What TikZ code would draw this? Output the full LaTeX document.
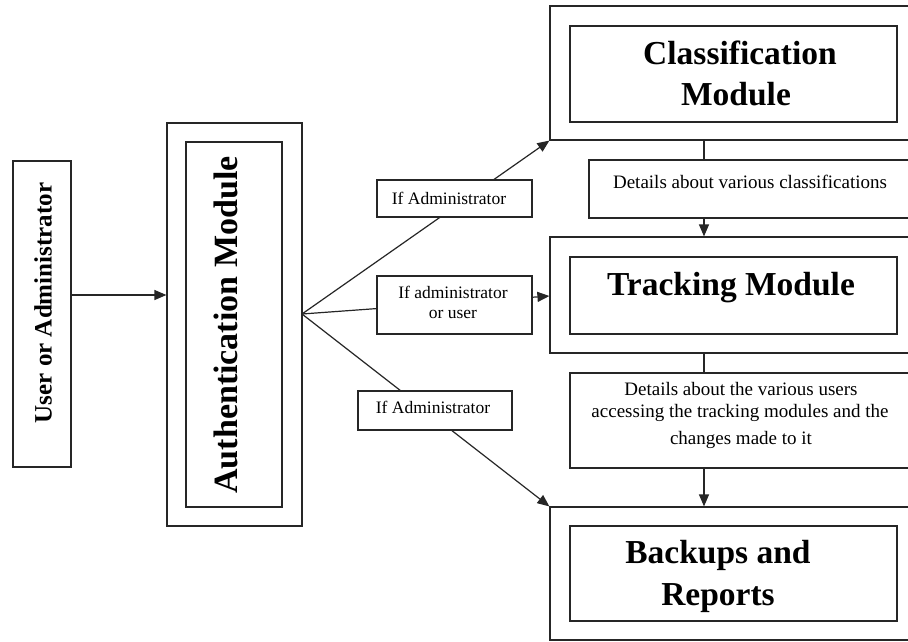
\documentclass[tikz,border=0pt]{standalone}
\usepackage{fontspec}
\setmainfont{Liberation Serif}
\usetikzlibrary{arrows.meta}
\begin{document}
\begin{tikzpicture}[x=1pt,y=-1pt,
  frame/.style={draw=black!85,line width=1.2pt,inner sep=0pt},
  bigtxt/.style={font=\fontsize{33.5}{40}\selectfont\bfseries,inner sep=0pt,anchor=base},
  smalltxt/.style={font=\fontsize{19}{22}\selectfont,inner sep=0pt,anchor=base},
  condtxt/.style={font=\fontsize{17.5}{20}\selectfont,inner sep=0pt,anchor=base},
  link/.style={draw=black!85,line width=1.2pt},
  arrowlink/.style={link,-{Triangle[length=12pt,width=10pt]}}]
\clip (0,0) rectangle (908,641);
\fill[white] (0,0) rectangle (908,641);

% left column: actor and authentication
\node[frame,minimum width=58pt,minimum height=306pt] (user) at (42,314) {};
\node[font=\fontsize{25}{30}\selectfont\bfseries,rotate=90,inner sep=0pt] (usertxt) at (43,303) {User or Administrator};
\node[frame,minimum width=135pt,minimum height=403pt] (authout) at (234.5,324.5) {};
\node[frame,minimum width=96pt,minimum height=365pt] (authin) at (234,324.5) {};
\node[font=\fontsize{34}{40}\selectfont\bfseries,rotate=90,inner sep=0pt] (authtxt) at (226,325) {Authentication Module};

% right column: modules and the data passed between them
\node[frame,minimum width=365pt,minimum height=134pt] (classout) at (732.5,73) {};
\node[frame,minimum width=327pt,minimum height=96pt] (classin) at (733.5,74) {};
\node[bigtxt] (classtxta) at (740,64) {Classification};
\node[bigtxt] (classtxtb) at (736,105) {Module};

\node[frame,minimum width=326pt,minimum height=58pt] (det1) at (752,189) {};
\node[smalltxt] (det1txt) at (750,188) {Details about various classifications};

\node[frame,minimum width=365pt,minimum height=116pt] (trackout) at (732.5,295) {};
\node[frame,minimum width=327pt,minimum height=77pt] (trackin) at (733.5,295.5) {};
\node[bigtxt] (tracktxt) at (731,295) {Tracking Module};

\node[frame,minimum width=345pt,minimum height=95pt] (det2) at (742.5,420.5) {};
\node[smalltxt] (det2a) at (741,395) {Details about the various users};
\node[smalltxt] (det2b) at (740,417) {accessing the tracking modules and the};
\node[smalltxt] (det2c) at (741,444) {changes made to it};

\node[frame,minimum width=365pt,minimum height=133pt] (backout) at (732.5,573.5) {};
\node[frame,minimum width=327pt,minimum height=95pt] (backin) at (733.5,573.5) {};
\node[bigtxt] (backtxta) at (718,563) {Backups and};
\node[bigtxt] (backtxtb) at (718,605) {Reports};

% connectors
\draw[arrowlink] (user.east |- 0,295) -- (authout.west |- 0,295);
\coordinate (fan) at (302,314);
\draw[arrowlink] (fan) -- (classout.south west);
\draw[arrowlink] (fan) -- (trackout.west |- 0,296);
\draw[arrowlink] (fan) -- (backout.north west);

\draw[link] (classout.south -| 704,0) -- (det1.north -| 704,0);
\draw[arrowlink] (det1.south -| 704,0) -- (trackout.north -| 704,0);
\draw[link] (trackout.south -| 704,0) -- (det2.north -| 704,0);
\draw[arrowlink] (det2.south -| 704,0) -- (backout.north -| 704,0);

% condition labels sit on top of the fan lines
\node[frame,fill=white,minimum width=155pt,minimum height=37pt] (cond1) at (454.5,198.5) {};
\node[condtxt] (cond1txt) at (449,204) {If Administrator};
\node[frame,fill=white,minimum width=155pt,minimum height=58pt] (cond2) at (454.5,305) {};
\node[condtxt] (cond2a) at (453,298) {If administrator};
\node[condtxt] (cond2b) at (453,318) {or user};
\node[frame,fill=white,minimum width=154pt,minimum height=39pt] (cond3) at (435,410.5) {};
\node[condtxt] (cond3txt) at (433,413) {If Administrator};
\end{tikzpicture}
\end{document}
